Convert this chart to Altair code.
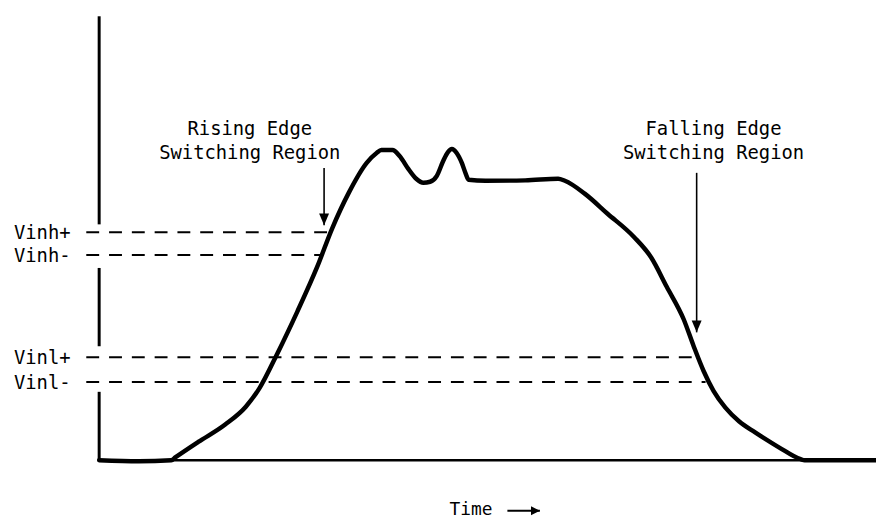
import altair as alt
import pandas as pd

# Waveform (time units, voltage units)
wave_t = [0, 5, 9.1, 9.6, 12.5, 15.9, 18.5, 20.25, 22.5, 25, 27.5, 29.4, 31.5,
          33.75, 35, 35.6, 37, 37.9, 39, 40, 40.9, 41.75, 42.6, 43.4, 44, 44.5, 45.1, 45.75,
          46.25, 46.6, 48.75, 53.75, 57.9, 58.75, 61.25, 64.1, 67.5, 69.6, 71.6, 73.75,
          75, 76.25, 77.5, 79, 80.75, 82.75, 85.75, 88.5, 89, 98]
wave_v = [0, -0.25, 0, 0.7, 4.6, 9, 13.5, 18.25, 27, 37.5, 48.75, 58.5, 67.5,
          75, 77.5, 78.25, 78.25, 76.75, 73.5, 71, 70, 70.25, 71.75, 75.5, 77.75, 78.5, 77.5, 75,
          72.25, 70.75, 70.5, 70.6, 71, 70.5, 67.25, 62.25, 56.25, 51.25, 43.75, 35.5,
          28.75, 22.5, 17.5, 13.25, 9.75, 7, 3.25, 0.25, 0, 0]

# Vertical axis segments (broken around the threshold labels)
axis_top = [112, 48.5, 17.25]
axis_bottom = [59.5, 28.75, 0]
time_end = 98

# Threshold levels
level_names = ["Vinh+", "Vinh-", "Vinl+", "Vinl-"]
level_values = [57.5, 51.75, 26, 19.75]
level_end = [29, 27.9, 75.25, 76.5]
dash_start = -1.625

# Region annotations
region_text = ["Rising Edge\nSwitching Region", "Falling Edge\nSwitching Region"]
region_t = [19, 77.5]
region_v = [82, 82]
arrow_t = [28.375, 75.375]
arrow_top = [73.75, 72.5]
arrow_tip = [59.25, 32.25]

# Time label
time_label = ["Time"]
time_label_t = [46.9]
time_label_v = [-13.75]
time_arrow_t = [51.5]
time_arrow_tip = [55.6]
time_arrow_v = [-12.75]

FONT = "DejaVu Sans Mono"
FS = 19
xs = alt.Scale(domain=[-11.5, 98], nice=False, zero=False)
ys = alt.Scale(domain=[-14.25, 113.5], nice=False, zero=False)

def X(f):
    return alt.X(f, type="quantitative", scale=xs, axis=None)

def Y(f):
    return alt.Y(f, type="quantitative", scale=ys, axis=None)

wave_df = pd.DataFrame({"t": wave_t, "v": wave_v, "o": range(len(wave_t))})
wave = alt.Chart(wave_df).mark_line(color="black", strokeWidth=4.5, interpolate="monotone",
                                    strokeJoin="round", strokeCap="round").encode(
    x=X("t"), y=Y("v"), order="o:Q")

axis_df = pd.DataFrame({"t": [0] * 3, "top": axis_top, "bot": axis_bottom})
vaxis = alt.Chart(axis_df).mark_rule(color="black", strokeWidth=3).encode(
    x=X("t"), y=Y("top"), y2="bot")

haxis_df = pd.DataFrame({"t0": [0], "t1": [time_end], "v": [0]})
haxis = alt.Chart(haxis_df).mark_rule(color="black", strokeWidth=2.5).encode(
    x=X("t0"), x2="t1", y=Y("v"))

lev_df = pd.DataFrame({"name": level_names, "v": level_values, "end": level_end,
                       "start": [dash_start] * 4, "lx": [-10.75] * 4})
dashes = alt.Chart(lev_df).mark_rule(color="black", strokeWidth=2, strokeDash=[13, 10]).encode(
    x=X("start"), x2="end", y=Y("v"))
lev_text = alt.Chart(lev_df).mark_text(font=FONT, fontSize=FS, align="left",
                                        baseline="alphabetic", dy=7, color="black").encode(
    x=X("lx"), y=Y("v"), text="name:N")

reg_df = pd.DataFrame({"text": region_text, "t": region_t, "v": region_v,
                       "at": arrow_t, "atop": arrow_top, "atip": arrow_tip})
reg_text = alt.Chart(reg_df).mark_text(font=FONT, fontSize=FS, align="center",
                                        baseline="alphabetic", lineBreak="\n", lineHeight=24,
                                        color="black").encode(
    x=X("t"), y=Y("v"), text="text:N")
arr_shaft = alt.Chart(reg_df).mark_rule(color="black", strokeWidth=1.6).encode(
    x=X("at"), y=Y("atop"), y2="atip")
arr_head = alt.Chart(reg_df).mark_point(shape="M-1,-2.4L1,-2.4L0,0Z", size=100, filled=True,
                                         opacity=1, color="black", strokeWidth=0).encode(
    x=X("at"), y=Y("atip"))

time_df = pd.DataFrame({"text": time_label, "t": time_label_t, "v": time_label_v,
                        "a0": time_arrow_t, "a1": time_arrow_tip, "av": time_arrow_v})
time_text = alt.Chart(time_df).mark_text(font=FONT, fontSize=FS - 1, align="center",
                                          baseline="alphabetic", color="black").encode(
    x=X("t"), y=Y("v"), text="text:N")
time_shaft = alt.Chart(time_df).mark_rule(color="black", strokeWidth=2).encode(
    x=X("a0"), x2="a1", y=Y("av"))
time_head = alt.Chart(time_df).mark_point(shape="M-2,-1L0,0L-2,1Z", size=81, filled=True,
                                           opacity=1, color="black", strokeWidth=0).encode(
    x=X("a1"), y=Y("av"))

chart = alt.layer(
    dashes, vaxis, haxis, wave, lev_text, reg_text, arr_shaft, arr_head,
    time_text, time_shaft, time_head
).properties(
    width=876, height=511, padding=0, autosize=alt.AutoSizeParams(type="none")
).configure_view(stroke=None)

chart.save("out.html", embed_options={"renderer": "svg", "actions": False})
